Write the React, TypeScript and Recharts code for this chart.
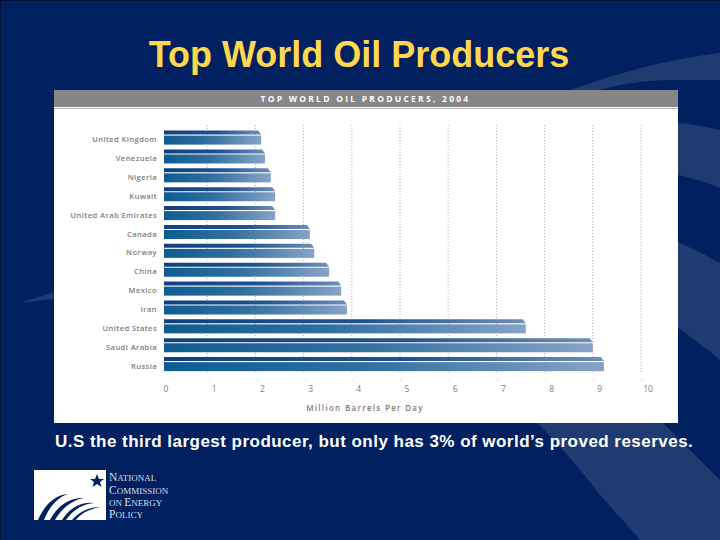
import { BarChart, Bar, XAxis, YAxis, CartesianGrid } from "recharts";

const countries = [
  "United Kingdom",
  "Venezuela",
  "Nigeria",
  "Kuwait",
  "United Arab Emirates",
  "Canada",
  "Norway",
  "China",
  "Mexico",
  "Iran",
  "United States",
  "Saudi Arabia",
  "Russia",
];
const barrels = [2.12, 2.2, 2.32, 2.41, 2.41, 3.13, 3.22, 3.53, 3.78, 3.9, 7.61, 9.0, 9.23];
const xTicks = [0, 1, 2, 3, 4, 5, 6, 7, 8, 9, 10];

const rows = countries.map((name, i) => ({ name, value: barrels[i] }));

const labelFont = "'Open Sans', 'Noto Sans', sans-serif";
const titleFont = "'Liberation Sans', Arial, sans-serif";

// bars start a little right of the zero tick, like in the original artwork
const SplitBar = (props: any) => {
  const { x, y, width, height } = props;
  const inset = 5;
  const left = x + inset;
  const right = x + width;
  const top = 4;
  const chamfer = 3;
  return (
    <g>
      <path d={`M${left},${y} H${right - chamfer} L${right},${y + top} H${left} Z`} fill="url(#barTop)" />
      <rect x={left} y={y + top + 1} width={width - inset} height={height - top - 1} fill="url(#barMain)" />
    </g>
  );
};

const DiagonalTick = (props: any) => {
  const { x, y, payload } = props;
  return (
    <g>
      {payload.value > 0 && (
        <line x1={x} y1={y - 1} x2={x + 4} y2={y + 3} stroke="#bbb" strokeWidth={0.7} strokeDasharray="1 1" />
      )}
      <text x={x + 7} y={y + 12} textAnchor="middle" fontSize={8.5} fill="#7d7d7d" fontFamily={labelFont}>
        {payload.value}
      </text>
    </g>
  );
};

const Backdrop = () => (
  <svg width={720} height={540} style={{ position: "absolute", left: 0, top: 0 }}>
    <rect width={720} height={540} fill="#002060" />
    <rect width={720} height={1} fill="#00103a" />
    <rect width={1} height={540} fill="#00103a" />
    <path d="M570,90 C620,72 670,59 720,53 V80 H667 C640,81 620,84 600,90 Z" fill="#1f3b70" />
    <path d="M678,123 C692,124 706,127 720,130 V188 C706,182 692,178 678,175 Z" fill="#1f3b70" />
    <path d="M678,242 C692,248 706,255 720,263 V360 C706,348 692,338 678,328 Z" fill="#1f3b70" />
    <path d="M20,303 L54,292 V299 Z" fill="#1f3b70" />
    <path d="M537,423 C560,445 585,475 600,495 C615,512 630,528 640,540 H720 V480 C700,460 680,440 663,423 Z" fill="#1f3b70" />

    <text x={359} y={67} textAnchor="middle" fontSize={36} fontWeight={700} fill="#ffd84f" fontFamily={titleFont}>
      Top World Oil Producers
    </text>

    <rect x={54} y={90} width={624} height={333} fill="#ffffff" />
    <rect x={54} y={90} width={624} height={17} fill="#868686" />
    <rect x={54} y={108} width={624} height={1} fill="#b5b5b5" />
    <text x={365.5} y={102} textAnchor="middle" fontSize={8.5} fontWeight={700} fill="#ffffff" letterSpacing={2.25} fontFamily={labelFont}>
      TOP WORLD OIL PRODUCERS, 2004
    </text>

    <text x={55} y={447} fontSize={17} fontWeight={700} fill="#ffffff" letterSpacing={0.47} fontFamily={titleFont}>
      U.S the third largest producer, but only has 3% of world’s proved reserves.
    </text>

    <rect x={34} y={470} width={72} height={50} fill="#ffffff" />
    <path d="M97,474 L99,479 L104,479 L100,482 L101.5,487 L97,484 L92.500,487 L94,482 L90,479 L95,479 Z" fill="#002060" />
    <g fill="#002060">
      <path d="M38,520 C44,506 54,495 68,494 C58,497 49,507 44,520 Z" />
      <path d="M50,520 C56,508 68,497 84,498 C72,500 61,509 55,520 Z" />
      <path d="M62,520 C68,510 80,501 94,503 C82,504 72,511 66,520 Z" />
      <path d="M72,520 C78,513 88,507 100,507 C90,509 81,513 76,520 Z" />
    </g>
    <g fontFamily="'Liberation Serif', serif" fill="#d9dfea" fontSize={11.5}>
      <text x={109} y={481}>N<tspan fontSize={9}>ATIONAL</tspan></text>
      <text x={109} y={493.500}>C<tspan fontSize={9}>OMMISSION</tspan></text>
      <text x={109} y={506}><tspan fontSize={9}>ON </tspan>E<tspan fontSize={9}>NERGY</tspan></text>
      <text x={109} y={518}>P<tspan fontSize={9}>OLICY</tspan></text>
    </g>
  </svg>
);

export default function App() {
  return (
    <div style={{ position: "fixed", left: 0, top: 0, width: 720, height: 540, overflow: "hidden" }}>
      <Backdrop />
      <div style={{ position: "absolute", left: 0, top: 0 }}>
        <BarChart
          width={720}
          height={540}
          layout="vertical"
          data={rows}
          margin={{ top: 125, right: 79, bottom: 0, left: 0 }}
          barCategoryGap={0}
        >
          <defs>
            <linearGradient id="barMain" x1="0" y1="0" x2="1" y2="0">
              <stop offset="0%" stopColor="#0e5c92" />
              <stop offset="45%" stopColor="#2f6f9f" />
              <stop offset="100%" stopColor="#87a3c6" />
            </linearGradient>
            <linearGradient id="barTop" x1="0" y1="0" x2="1" y2="0">
              <stop offset="0%" stopColor="#10407f" />
              <stop offset="55%" stopColor="#1f5290" />
              <stop offset="100%" stopColor="#6f8db7" />
            </linearGradient>
          </defs>
          <CartesianGrid
            horizontal={false}
            stroke="#aaaaaa"
            strokeDasharray="1 2"
            verticalValues={xTicks.slice(1)}
          />
          <XAxis
            type="number"
            domain={[0, 10]}
            ticks={xTicks}
            height={166}
            axisLine={false}
            tickLine={false}
            tick={<DiagonalTick />}
            tickMargin={0}
            interval={0}
            label={{
              value: "Million Barrels Per Day",
              position: "insideTop",
              offset: 31,
              fontSize: 8,
              fontWeight: 600,
              letterSpacing: 1.3,
              fill: "#7d7d7d",
              fontFamily: labelFont,
              dx: -35,
            }}
          />
          <YAxis
            type="category"
            dataKey="name"
            width={159}
            axisLine={false}
            tickLine={false}
            tickSize={0}
            tickMargin={2}
            interval={0}
            padding={{ top: 3.6, bottom: 0 }}
            tick={{ fontSize: 7.6, fontWeight: 600, fill: "#7d7d7d", fontFamily: labelFont, letterSpacing: 0.4, dy: 1.5 }}
          />
          <Bar dataKey="value" barSize={14} shape={<SplitBar />} isAnimationActive={false} />
        </BarChart>
      </div>
    </div>
  );
}
